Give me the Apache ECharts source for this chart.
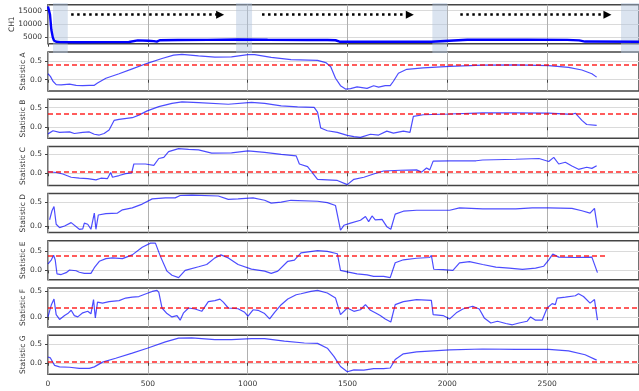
<!DOCTYPE html>
<html>
<head>
<meta charset="utf-8">
<script src="https://cdn.jsdelivr.net/npm/echarts@6/dist/echarts.min.js"></script>
<style>
html, body { margin: 0; padding: 0; background: #fff; }
#chart { width: 639px; height: 391px; }
</style>
</head>
<body>
<div id="chart"></div>
<script>
// values
var xTicks = [0, 500, 1000, 1500, 2000, 2500]
var ch1Ticks = [5000, 10000, 15000]
var statTicks = [0, 0.5]
var panelNames = ['CH1', 'Statistic A', 'Statistic B', 'Statistic C', 'Statistic D', 'Statistic E', 'Statistic F', 'Statistic G']

var ch1 = [[0, 16600], [5, 16500], [10, 13500], [17, 7600], [24, 4800], [30, 3600], [41, 3150], [60, 3000], [150, 2950], [300, 3000], [405, 3050], [415, 3550], [450, 3650], [500, 3500], [530, 3350], [545, 3150], [560, 3700], [650, 3800], [800, 3850], [950, 4000], [1100, 3900], [1300, 3800], [1400, 3800], [1440, 3700], [1460, 3150], [1600, 3100], [1800, 3100], [1920, 3150], [1930, 3850], [2100, 3900], [2400, 3900], [2600, 3850], [2660, 3650], [2690, 3200], [2960, 3100]]

var statA = [[0, 0.16], [12, 0.09], [25, -0.04], [41, -0.13], [66, -0.14], [108, -0.12], [141, -0.15], [174, -0.16], [207, -0.15], [232, -0.15], [248, -0.09], [290, 0.04], [356, 0.16], [422, 0.29], [497, 0.44], [571, 0.57], [629, 0.66], [671, 0.68], [754, 0.64], [836, 0.605], [919, 0.61], [1002, 0.675], [1035, 0.675], [1118, 0.6], [1217, 0.54], [1350, 0.52], [1391, 0.46], [1416, 0.35], [1440, 0.04], [1465, -0.16], [1490, -0.25], [1515, -0.24], [1548, -0.19], [1598, -0.23], [1631, -0.16], [1656, -0.2], [1689, -0.16], [1714, -0.16], [1730, -0.04], [1755, 0.175], [1797, 0.28], [1879, 0.32], [2012, 0.36], [2177, 0.39], [2343, 0.4], [2508, 0.38], [2607, 0.33], [2674, 0.26], [2724, 0.16], [2748, 0.07]]

var statB = [[0, -0.17], [5, -0.15], [25, -0.09], [58, -0.13], [108, -0.12], [132, -0.16], [174, -0.13], [207, -0.12], [232, -0.18], [257, -0.2], [281, -0.16], [306, -0.07], [331, 0.175], [356, 0.2], [422, 0.245], [455, 0.31], [497, 0.42], [555, 0.53], [621, 0.61], [671, 0.65], [754, 0.63], [903, 0.59], [1019, 0.64], [1085, 0.61], [1168, 0.55], [1250, 0.52], [1333, 0.51], [1350, 0.39], [1366, -0.02], [1399, -0.09], [1449, -0.13], [1499, -0.21], [1532, -0.24], [1565, -0.26], [1615, -0.18], [1656, -0.2], [1697, -0.1], [1730, -0.15], [1780, -0.1], [1813, -0.13], [1830, 0.28], [1879, 0.32], [2012, 0.34], [2177, 0.37], [2343, 0.37], [2508, 0.36], [2624, 0.33], [2641, 0.36], [2674, 0.175], [2698, 0.07], [2748, 0.05]]

var statC = [[0, 0.04], [5, 0.035], [41, 0.02], [74, -0.02], [116, -0.105], [157, -0.13], [199, -0.14], [240, -0.175], [265, -0.13], [298, -0.14], [314, 0.02], [323, -0.105], [356, -0.06], [389, -0.01], [419, 0.01], [430, 0.245], [488, 0.245], [530, 0.21], [555, 0.39], [580, 0.42], [604, 0.57], [654, 0.65], [704, 0.63], [754, 0.62], [820, 0.53], [919, 0.54], [1002, 0.59], [1085, 0.55], [1168, 0.5], [1243, 0.46], [1259, 0.245], [1300, 0.175], [1350, -0.16], [1399, -0.175], [1449, -0.19], [1499, -0.3], [1532, -0.16], [1582, -0.105], [1631, -0.02], [1681, 0.06], [1764, 0.08], [1846, 0.09], [1871, 0.03], [1896, 0.14], [1912, 0.09], [1929, 0.32], [2012, 0.33], [2144, 0.33], [2177, 0.35], [2343, 0.37], [2459, 0.39], [2508, 0.31], [2533, 0.42], [2558, 0.245], [2591, 0.29], [2624, 0.19], [2657, 0.105], [2698, 0.16], [2724, 0.13], [2748, 0.2]]

var statD = [[8, 0.13], [20, 0.32], [30, 0.41], [41, 0.035], [58, -0.035], [83, 0], [116, 0.07], [157, -0.07], [174, -0.06], [182, 0.06], [199, 0.035], [215, -0.07], [232, 0.27], [240, -0.07], [252, 0.23], [290, 0.26], [348, 0.27], [373, 0.34], [422, 0.38], [472, 0.46], [522, 0.57], [588, 0.59], [637, 0.59], [662, 0.64], [720, 0.65], [853, 0.63], [903, 0.56], [952, 0.57], [1027, 0.59], [1085, 0.54], [1118, 0.48], [1168, 0.5], [1217, 0.54], [1350, 0.52], [1399, 0.49], [1440, 0.43], [1465, -0.09], [1482, 0.014], [1515, 0.06], [1565, 0.12], [1590, 0.2], [1606, 0.09], [1623, 0.21], [1639, 0.13], [1673, 0.14], [1697, -0.014], [1717, -0.07], [1739, 0.25], [1780, 0.31], [1846, 0.33], [2012, 0.33], [2061, 0.38], [2177, 0.36], [2343, 0.36], [2425, 0.38], [2508, 0.38], [2624, 0.37], [2674, 0.32], [2715, 0.27], [2737, 0.37], [2752, -0.035]]

var statE = [[0, 0.17], [5, 0.18], [17, 0.28], [28, 0.4], [36, 0.28], [45, -0.09], [66, -0.11], [91, -0.06], [108, 0.01], [141, -0.01], [157, -0.05], [182, -0.08], [215, -0.08], [232, 0.07], [257, 0.24], [290, 0.31], [323, 0.33], [373, 0.31], [422, 0.41], [472, 0.61], [513, 0.72], [538, 0.72], [563, 0.37], [596, -0.02], [621, -0.13], [654, -0.19], [687, 0], [754, 0.095], [795, 0.155], [836, 0.33], [866, 0.41], [903, 0.33], [952, 0.155], [1019, 0.035], [1085, -0.02], [1118, -0.08], [1151, -0.02], [1201, 0.24], [1234, 0.27], [1267, 0.46], [1350, 0.52], [1399, 0.5], [1449, 0.44], [1465, 0], [1499, -0.04], [1548, -0.09], [1598, -0.12], [1631, -0.16], [1681, -0.16], [1714, -0.19], [1739, 0.2], [1780, 0.28], [1846, 0.32], [1912, 0.34], [1920, 0.4], [1932, 0.03], [1979, 0.02], [2028, 0], [2061, 0.2], [2111, 0.23], [2177, 0.155], [2243, 0.086], [2310, 0.06], [2376, 0.026], [2442, 0.06], [2483, 0.11], [2508, 0.28], [2528, 0.43], [2558, 0.35], [2641, 0.34], [2724, 0.35], [2734, 0.39], [2752, -0.06]]

var statF = [[0, 0], [17, 0.24], [30, 0.35], [41, 0.045], [58, -0.05], [83, 0.026], [99, 0.065], [116, 0.13], [132, 0.026], [149, 0], [174, 0.08], [199, 0.11], [215, 0.06], [228, 0.34], [237, -0.02], [248, 0.29], [273, 0.27], [306, 0.3], [356, 0.32], [389, 0.37], [422, 0.39], [455, 0.4], [488, 0.45], [522, 0.5], [546, 0.52], [555, 0.48], [571, 0.175], [596, 0.065], [621, 0], [646, 0.026], [662, -0.065], [679, 0.08], [704, 0.175], [737, 0.155], [770, 0.11], [803, 0.3], [836, 0.32], [861, 0.35], [878, 0.29], [903, 0.175], [952, 0.16], [985, 0.09], [1002, 0.013], [1027, 0.14], [1052, 0.13], [1085, 0.065], [1110, -0.04], [1135, 0.09], [1168, 0.24], [1201, 0.35], [1243, 0.435], [1267, 0.455], [1317, 0.5], [1350, 0.52], [1399, 0.47], [1440, 0.37], [1465, 0.045], [1499, 0.175], [1532, 0.11], [1565, 0.14], [1590, 0.24], [1615, 0.13], [1639, 0.08], [1664, 0.026], [1689, -0.04], [1717, -0.1], [1739, 0.24], [1780, 0.3], [1846, 0.34], [1920, 0.325], [1929, 0.045], [1979, 0.026], [2012, -0.04], [2045, 0.08], [2078, 0.155], [2127, 0.21], [2160, 0.155], [2185, -0.02], [2218, -0.12], [2251, -0.085], [2293, -0.13], [2326, -0.155], [2359, -0.12], [2400, -0.085], [2417, 0], [2442, -0.065], [2475, -0.065], [2500, 0.175], [2525, 0.26], [2541, 0.24], [2550, 0.37], [2591, 0.39], [2641, 0.415], [2657, 0.455], [2682, 0.4], [2715, 0.27], [2737, 0.34], [2752, -0.065]]

var statG = [[0, 0.155], [12, 0.13], [33, -0.07], [58, -0.11], [108, -0.12], [157, -0.15], [207, -0.15], [232, -0.11], [273, 0.017], [339, 0.12], [422, 0.26], [497, 0.39], [588, 0.56], [654, 0.66], [720, 0.67], [836, 0.62], [919, 0.62], [1019, 0.65], [1085, 0.65], [1184, 0.58], [1284, 0.53], [1350, 0.52], [1399, 0.39], [1432, 0.17], [1465, -0.1], [1499, -0.24], [1532, -0.19], [1582, -0.2], [1631, -0.155], [1681, -0.155], [1714, -0.14], [1739, 0.086], [1780, 0.24], [1846, 0.29], [2012, 0.345], [2177, 0.37], [2343, 0.36], [2508, 0.36], [2607, 0.32], [2690, 0.215], [2748, 0.07]]

// red dashed limits (D has none), E stops short of the right edge
var thresholds = [0.413, 0.342, 0.037, null, 0.396, 0.175, 0.042]
var shadeSpans = [[25, 99], [942, 1022], [1925, 2000], [2870, 2960]]
var arrowSpans = [[116, 862], [1072, 1812], [2065, 2802]]
var arrowLevel = 13460

var yRanges = [[2380, 17300], [-0.3, 0.745], [-0.28, 0.72], [-0.32, 0.71], [-0.14, 0.68], [-0.25, 0.78], [-0.2, 0.566], [-0.31, 0.737]]

var chart = echarts.init(document.getElementById('chart'))
var panels = [ch1, statA, statB, statC, statD, statE, statF, statG]
var font = 'DejaVu Sans'
var grids = []
var xAxes = []
var yAxes = []
var series = []

for (var i = 0; i < panels.length; i++) {
  var last = i === panels.length - 1
  grids.push({
    left: 48,
    width: 596,
    top: 4.7 + 47.23 * i,
    height: 39,
    show: true,
    borderColor: '#444',
    borderWidth: 1.5
  })
  xAxes.push({
    type: 'value',
    gridIndex: i,
    min: 0,
    max: 2960,
    axisLine: { show: false },
    axisTick: { show: true, length: 3, customValues: xTicks, lineStyle: { color: '#444' } },
    axisLabel: {
      show: last,
      customValues: xTicks,
      fontSize: 7.5,
      color: '#333',
      margin: 6,
      fontFamily: font,
      formatter: function(v) { return String(v) }
    },
    splitLine: { show: true, lineStyle: { color: '#b0b0b0', width: 1 } }
  })
  var ticks = i === 0 ? ch1Ticks : statTicks
  yAxes.push({
    type: 'value',
    gridIndex: i,
    min: yRanges[i][0],
    max: yRanges[i][1],
    name: panelNames[i],
    nameLocation: 'middle',
    nameMoveOverlap: false,
    nameGap: i === 0 ? 32 : 21,
    nameTextStyle: { fontSize: 7.5, color: '#333', fontFamily: font },
    axisLine: { show: false },
    axisTick: { show: true, length: 3, customValues: ticks, lineStyle: { color: '#444' } },
    axisLabel: {
      customValues: ticks,
      fontSize: 7.5,
      color: '#333',
      margin: 6,
      fontFamily: font,
      formatter: i === 0 ? function(v) { return String(v) } : function(v) { return v.toFixed(1) }
    },
    splitLine: { show: true, lineStyle: { color: '#dadada', width: 1.2 } }
  })

  var s = {
    type: 'line',
    xAxisIndex: i,
    yAxisIndex: i,
    data: panels[i],
    showSymbol: false,
    silent: true,
    animation: false,
    z: 3,
    lineStyle: i === 0 ? { color: '#0000ff', width: 2.4 } : { color: 'rgba(0,0,255,0.7)', width: 1.2 }
  }
  if (i === 0) {
    s.markLine = {
      silent: true,
      animation: false,
      symbol: ['none', 'triangle'],
      symbolSize: [8, 8],
      label: { show: false },
      lineStyle: { color: '#000', width: 2.5, type: [2.5, 3.5], cap: 'butt' },
      data: arrowSpans.map(function(a) {
        return [{ coord: [a[0], arrowLevel] }, { coord: [a[1], arrowLevel] }]
      })
    }
  } else if (thresholds[i - 1] !== null) {
    var t = thresholds[i - 1]
    s.markLine = {
      silent: true,
      animation: false,
      symbol: 'none',
      label: { show: false },
      lineStyle: { color: 'rgba(255,0,0,0.85)', width: 1.7, type: [5, 3] },
      data: i === 5 ? [[{ coord: [0, t] }, { coord: [2800, t] }]] : [{ yAxis: t }]
    }
  }
  series.push(s)
}

// shaded spans over CH1 (they run a little past the panel bottom)
grids.push({ left: 48, width: 596, top: 3, height: 50, show: false })
xAxes.push({ type: 'value', gridIndex: 8, min: 0, max: 2960, show: false })
yAxes.push({ type: 'value', gridIndex: 8, min: 0, max: 1, show: false })
series.push({
  type: 'line',
  xAxisIndex: 8,
  yAxisIndex: 8,
  data: [[0, -5]],
  showSymbol: false,
  silent: true,
  z: 1,
  lineStyle: { opacity: 0 },
  markArea: {
    silent: true,
    animation: false,
    itemStyle: { color: 'rgba(176,196,222,0.45)' },
    data: shadeSpans.map(function(a) {
      return [{ xAxis: a[0] }, { xAxis: a[1] }]
    })
  }
})

var option = {
  animation: false,
  backgroundColor: '#ffffff',
  grid: grids,
  xAxis: xAxes,
  yAxis: yAxes,
  series: series
}
chart.setOption(option, true)
</script>
</body>
</html>
